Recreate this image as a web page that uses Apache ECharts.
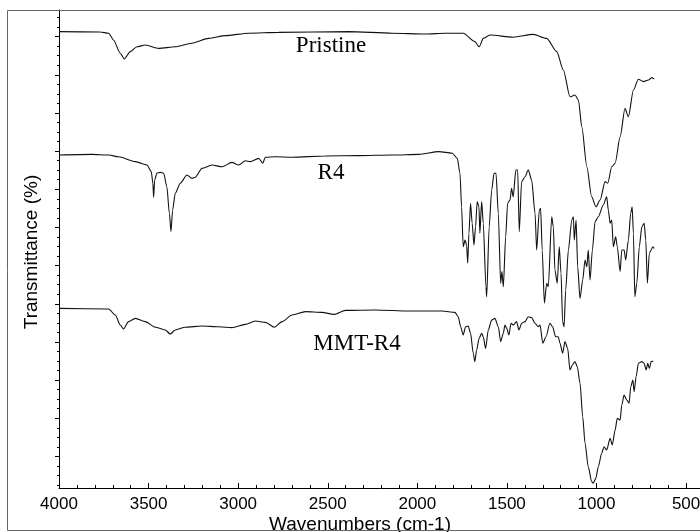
<!DOCTYPE html>
<html>
<head>
<meta charset="utf-8">
<script src="https://cdn.jsdelivr.net/npm/echarts@6/dist/echarts.min.js"></script>
<style>html,body{margin:0;padding:0;background:#fff}#c{width:700px;height:532px}</style>
</head>
<body>
<div id="c"></div>
<script>
// ---- data (wavenumber cm-1, transmittance in arbitrary offset units) ----
const pristineWn = [4000,3770,3723,3696,3658,3636,3602,3565,3518,3444,3351,3258,3165,3071,2941,2774,2383,2141,1954,1842,1744,1679,1655,1632,1595,1465,1353,1278,1222,1185,1148,1120,1101,1082,1054,1027,1003,980,952,937,915,896,868,841,822,794,766,738,710,691,678];
const pristineT  = [114.1,114.0,113.7,112,108.7,107.25,109.1,110.3,110.75,109.9,110.3,111.2,112.4,113.1,113.7,113.9,114.1,113.7,113.5,113.7,113.7,111.6,110.3,112.4,113.25,112.7,113.4,112.4,109.1,104.5,97.8,98.25,97.0,90.3,80.3,72.8,70.3,72.0,76.6,76.2,80.3,81.2,87.8,94.9,92.8,99.5,102.2,101.6,102,102.6,102.2];

const r4Wn = [4000,3817,3723,3668,3574,3509,3485,3476,3472,3466,3454,3435,3416,3398,3384,3375,3366,3351,3323,3286,3258,3239,3202,3146,3090,3035,2997,2960,2932,2885,2863,2848,2792,2699,2513,2327,2141,1991,1880,1805,1777,1762,1753,1744,1734,1725,1719,1712,1703,1694,1684,1675,1666,1656,1651,1641,1632,1617,1613,1599,1585,1572,1561,1548,1535,1528,1520,1507,1496,1483,1474,1465,1450,1440,1431,1418,1399,1381,1362,1343,1334,1319,1312,1303,1291,1278,1269,1250,1241,1232,1219,1208,1198,1189,1181,1172,1157,1138,1129,1124,1114,1105,1092,1077,1064,1054,1046,1036,1023,1008,990,962,943,934,924,915,906,893,884,868,859,846,837,822,809,801,794,786,775,761,747,734,725,716,705,695,686,678];
const r4T  = [83.25,83.4,83.25,82.8,81.6,80.75,79.1,76.2,72.7,77,78.7,78.9,78.7,75.3,68.7,64.1,69.5,73.7,76.2,78.25,77.4,77.7,79.9,80.75,80.3,81.4,80.75,81.8,81.6,82.4,81.2,82.7,82.8,82.7,83,83.1,83.25,83.4,84.1,83.7,82.4,78.7,70.3,60.3,62,60.75,56.2,63.7,71.2,66.2,60.75,65.3,71.6,70.3,63.7,71.6,66.2,50.3,47.8,65.3,74.5,78.7,78.7,68.7,51.2,54.1,50.3,62.8,71.2,72,74.9,72.8,79.5,79.5,64.1,76.6,77.8,79.5,77,68.7,59.5,69.5,69.9,59.5,46.2,51.2,50.3,67.8,65.3,54.5,51.2,60.3,53.7,41.6,40.3,49.5,59.5,67,67.8,62,67,55.3,47.4,52,57,55.3,59.5,52,59.5,66.6,67.8,70.75,72.8,69.5,66.2,67,60.3,62.8,60.3,54.1,59.5,59.5,57,62,68.7,70.3,63.7,47.8,51.2,60.3,65.3,66.2,62,51.2,58.7,59.5,60.3,59.9];

const mmtWn = [4000,3723,3686,3658,3640,3612,3574,3518,3463,3407,3379,3351,3295,3202,3109,3035,2960,2904,2848,2798,2755,2699,2624,2532,2466,2401,2233,2047,1861,1790,1772,1758,1744,1731,1716,1703,1688,1679,1669,1655,1641,1632,1619,1604,1585,1567,1548,1535,1520,1511,1501,1489,1477,1465,1446,1433,1418,1399,1381,1362,1343,1325,1315,1300,1282,1260,1245,1228,1213,1204,1189,1176,1161,1148,1135,1120,1107,1092,1077,1064,1046,1027,1018,1004,990,971,958,943,924,912,896,884,868,859,846,831,818,809,797,790,779,766,747,734,723,714,705,695,683];
const mmtT  = [44.9,44.75,43.25,40.75,39.75,41.6,42.4,41.6,40.2,39.5,38.5,39.5,40.2,40.5,40.3,40.1,40.9,41.75,41.4,40.2,41.6,43.25,44.1,43.9,43.4,44.4,44.5,44.25,44.25,43.9,42.8,40.3,38.25,40.3,40.5,38.7,33.7,31.6,34.5,37.4,38.7,37.8,34.9,39.5,42,42.4,40.3,36.6,38.7,40.75,39.9,38.25,41.2,40.75,41.6,39.5,41.2,41.6,42.8,42.6,41.2,40.3,40.75,36.2,37.8,41.2,40.3,37.8,37.8,36.2,33.7,36.6,34.9,29.5,30.75,31.6,30.3,26.2,17.8,11.2,5.3,1.6,1.2,2.4,5.3,8.7,10.3,9.5,12.4,10.75,14.5,17.4,17,20.75,23.25,22,21.2,25.3,27,24.1,27.8,31.2,31.6,31.2,29.5,31.2,29.9,31.6,31.75];

const seriesNames = ['Pristine', 'R4', 'MMT-R4'];
const xTickLabels = [4000, 3500, 3000, 2500, 2000, 1500, 1000, 500];
const xAxisTitle = 'Wavenumbers (cm-1)';
const yAxisTitle = 'Transmittance (%)';

// ---- axis tick helpers ----
const X_MIN = 400, X_MAX = 4000;
const Y_MIN = 0, Y_MAX = 119.5;
const yTickStart = 7.9, yTickStep = 9.54;
const yMajor = [], yMinor = [];
for (let v = yTickStart; v <= Y_MAX; v += yTickStep) yMajor.push(+v.toFixed(3));
for (let v = yTickStart - 3 * yTickStep / 4; v <= Y_MAX; v += yTickStep / 4) {
  if (v > Y_MIN && !yMajor.some(m => Math.abs(m - v) < 0.01)) yMinor.push(+v.toFixed(3));
}
const xMinor = [];
for (let v = 500; v <= 3900; v += 100) if (v % 500 !== 0) xMinor.push(v);

const zip = (a, b) => a.map((x, i) => [x, b[i]]);

const chart = echarts.init(document.getElementById('c'), null, {renderer: 'canvas'});
const axisFont = 'Liberation Sans, Arial, sans-serif';
const serifFont = 'Liberation Serif, Times New Roman, serif';

const lineSeries = (name, wn, t) => ({
  name, type: 'line', data: zip(wn, t), showSymbol: false, symbol: 'none',
  lineStyle: {color: '#111', width: 1.1}, smooth: 0.25, smoothMonotone: 'x',
  animation: false, xAxisIndex: 0, yAxisIndex: 0
});

chart.setOption({
  animation: false,
  backgroundColor: '#fff',
  grid: {left: 59, top: 10, width: 645, height: 478, containLabel: false, outerBoundsMode: 'none'},
  xAxis: [
    {
      type: 'value', min: X_MIN, max: X_MAX, inverse: true, position: 'bottom',
      axisLine: {show: true, onZero: false, lineStyle: {color: '#000', width: 1}},
      axisTick: {show: true, inside: true, length: 5, customValues: xTickLabels, lineStyle: {color: '#000'}},
      axisLabel: {show: true, customValues: xTickLabels, color: '#000', fontSize: 17, fontFamily: axisFont, margin: 8,
        formatter: v => String(v), hideOverlap: false},
      splitLine: {show: false}
    },
    {
      type: 'value', min: X_MIN, max: X_MAX, inverse: true, position: 'bottom',
      axisLine: {show: false},
      axisTick: {show: true, inside: true, length: 3, customValues: xMinor, lineStyle: {color: '#000'}},
      axisLabel: {show: false}, splitLine: {show: false}
    }
  ],
  yAxis: [
    {
      type: 'value', min: Y_MIN, max: Y_MAX, position: 'left',
      axisLine: {show: true, onZero: false, lineStyle: {color: '#000', width: 1}},
      axisTick: {show: true, inside: false, length: 4, customValues: yMajor, lineStyle: {color: '#000'}},
      axisLabel: {show: false}, splitLine: {show: false}
    },
    {
      type: 'value', min: Y_MIN, max: Y_MAX, position: 'left',
      axisLine: {show: false},
      axisTick: {show: true, inside: false, length: 2, customValues: yMinor, lineStyle: {color: '#000'}},
      axisLabel: {show: false}, splitLine: {show: false}
    }
  ],
  series: [
    lineSeries(seriesNames[0], pristineWn, pristineT),
    lineSeries(seriesNames[1], r4Wn, r4T),
    lineSeries(seriesNames[2], mmtWn, mmtT)
  ],
  graphic: [
    {type: 'rect', silent: true, shape: {x: 7.5, y: 10.5, width: 720, height: 520}, style: {fill: 'none', stroke: '#666', lineWidth: 1}, z: 100},
    {type: 'text', x: 31.5, y: 252, rotation: Math.PI / 2,
      style: {text: yAxisTitle, fill: '#000', font: '19px ' + axisFont, align: 'center', verticalAlign: 'middle'}},
    {type: 'text', x: 360, y: 525,
      style: {text: xAxisTitle, fill: '#000', font: '19px ' + axisFont, align: 'center', verticalAlign: 'middle'}},
    {type: 'text', x: 331, y: 46,
      style: {text: seriesNames[0], fill: '#000', font: '23px ' + serifFont, align: 'center', verticalAlign: 'middle'}},
    {type: 'text', x: 331, y: 173,
      style: {text: seriesNames[1], fill: '#000', font: '23px ' + serifFont, align: 'center', verticalAlign: 'middle'}},
    {type: 'text', x: 357, y: 344,
      style: {text: seriesNames[2], fill: '#000', font: '23px ' + serifFont, align: 'center', verticalAlign: 'middle'}}
  ]
});
</script>
</body>
</html>
